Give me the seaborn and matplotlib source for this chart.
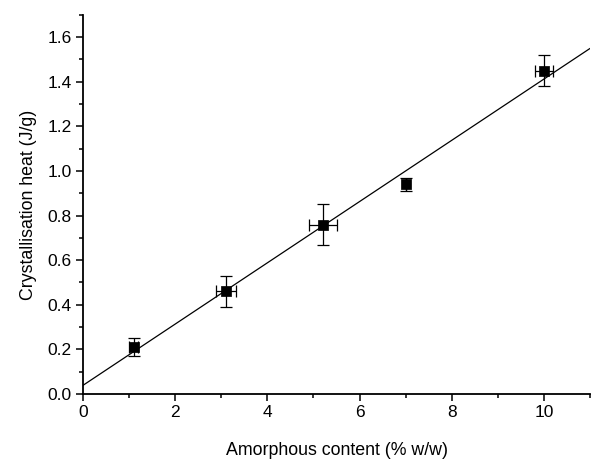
import numpy as np
import matplotlib
matplotlib.use("Agg")
import matplotlib.pyplot as plt
import seaborn as sns
from matplotlib.ticker import MultipleLocator

# data
amorphous = [1.1, 3.1, 5.2, 7.0, 10.0]
heat = [0.21, 0.46, 0.76, 0.94, 1.45]
amorphous_err = [0.1, 0.21, 0.3, 0.0, 0.2]
heat_err = [0.04, 0.07, 0.09, 0.03, 0.07]

sns.set_theme(style="ticks")
plt.rcParams['font.family'] = ['Liberation Sans', 'DejaVu Sans']

fig = plt.figure(figsize=(5.91, 4.59), dpi=100)
ax = fig.add_axes([0.1404, 0.1416, 0.858, 0.826])
ax.set_xlim(0, 11)
ax.set_ylim(0, 1.7)

# linear fit line over the full axis range
sns.regplot(x=amorphous, y=heat, ax=ax, scatter=False, ci=None, truncate=False,
            line_kws=dict(color="black", lw=0.9))

ax.errorbar(amorphous, heat, xerr=amorphous_err, yerr=heat_err, fmt="none",
            ecolor="black", elinewidth=0.9, capsize=4, capthick=0.9, zorder=3)
sns.scatterplot(x=amorphous, y=heat, ax=ax, marker="s", s=42, color="black",
                edgecolor="black", zorder=4)

ax.set_xlim(0, 11)
ax.set_ylim(0, 1.7)
ax.xaxis.set_major_locator(MultipleLocator(2))
ax.xaxis.set_minor_locator(MultipleLocator(1))
ax.yaxis.set_minor_locator(MultipleLocator(0.1))
ax.set_yticks(np.arange(0, 1.61, 0.2))
ax.set_yticklabels([f"{v:.1f}" for v in np.arange(0, 1.61, 0.2)])

ax.tick_params(which="major", direction="out", length=5, width=1.1, labelsize=12.5, pad=3, color="black", labelcolor="black")
ax.tick_params(which="minor", direction="out", length=3, width=1.1, color="black")
for side in ["top", "right"]:
    ax.spines[side].set_visible(False)
for side in ["left", "bottom"]:
    ax.spines[side].set_linewidth(1.3)
    ax.spines[side].set_color("black")

ax.set_xlabel("Amorphous content (% w/w)", fontsize=12.8, labelpad=16, color="black")
ax.set_ylabel("Crystallisation heat (J/g)", fontsize=12.8, labelpad=8, color="black")

fig.savefig("out.png", dpi=100)
